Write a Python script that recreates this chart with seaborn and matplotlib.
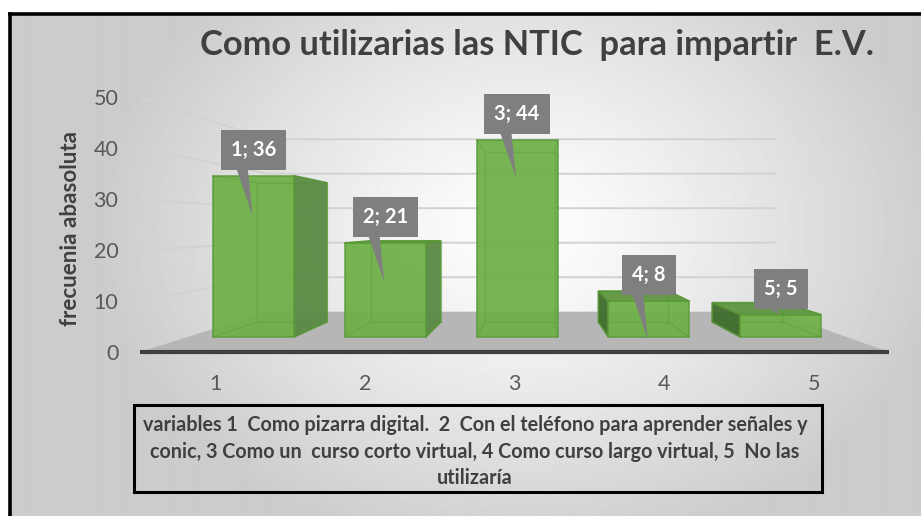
import numpy as np
import pandas as pd
import matplotlib
matplotlib.use("Agg")
import matplotlib.pyplot as plt
from matplotlib.patches import Polygon, Rectangle
import seaborn as sns

# ---- data -------------------------------------------------------------
categories = ["1", "2", "3", "4", "5"]
values = [36, 21, 44, 8, 5]
y_ticks = [0, 10, 20, 30, 40, 50]
title = "Como utilizarias las NTIC  para impartir  E.V."
y_label = "frecuenia abasoluta"
note_lines = [
    "variables 1  Como pizarra digital.  2  Con el teléfono para aprender señales y",
    "conic, 3 Como un  curso corto virtual, 4 Como curso largo virtual, 5  No las",
    "utilizaría",
]

# ---- styling ----------------------------------------------------------
W, H = 921, 516
FRONT = "#6cb045"
EDGE = "#5a9a38"
SIDE_R = "#5a8a44"
SIDE_L = "#3f6c2d"
TOP = "#5f9641"
FLOOR = "#b6b6b6"
GRID = "#d2d2d2"
TEXT_DARK = "#404040"
TICK = "#595959"
CALLOUT = "#7f7f7f"
callout_tail_px = [47, 46, 45, 45, 7]

# perspective set-up (pixel space of the front plane)
PX_PER_CAT = 131.8
PX_PER_UNIT = 4.48
ORIGIN_PX = (253.5, 337.0)
VANISH_PX = (535.0, 227.0)
K_BAR_BACK = 0.863
K_WALL = 0.77
K_FLOOR_FRONT = 1.136


def dx(px):
    return (px - ORIGIN_PX[0]) / PX_PER_CAT


def dy(py):
    return (ORIGIN_PX[1] - py) / PX_PER_UNIT


VX, VY = dx(VANISH_PX[0]), dy(VANISH_PX[1])


def proj(x, y, k):
    return (VX + k * (x - VX), VY + k * (y - VY))


sns.set_theme(style="white")
plt.rcParams["font.family"] = ["Lato", "DejaVu Sans"]

fig = plt.figure(figsize=(W / 100, H / 100), dpi=100)

# background: radial grey gradient inside a black frame
bg = fig.add_axes([0, 0, 1, 1], zorder=0)
bg.set_xlim(0, W)
bg.set_ylim(H, 0)
bg.axis("off")
yy, xx = np.mgrid[13:H, 10:W]
d = np.sqrt(((xx - 520) / 420.0) ** 2 + ((yy - 230) / 330.0) ** 2)
g = 1 - 0.2 * np.clip(d, 0, 1) ** 1.2
bg.imshow(g, cmap="gray", vmin=0, vmax=1, extent=(10, W, H, 13),
          aspect="auto", interpolation="bilinear")
bg.plot([10, 10], [H + 5, 14], color="black", lw=2.6, solid_capstyle="projecting")
bg.plot([10, W + 5], [14, 14], color="black", lw=2.6, solid_capstyle="projecting")

# main chart axes
ax = fig.add_axes([0, 0, 1, 1], zorder=1)
ax.patch.set_alpha(0)

df = pd.DataFrame({"opcion": categories, "frecuencia": values})
sns.barplot(data=df, x="opcion", y="frecuencia", width=0.615, color=FRONT,
            saturation=1, ax=ax, edgecolor=EDGE, linewidth=1.1, alpha=0.93,
            zorder=5)
bars = list(ax.patches)

ax.set_xlim(dx(0), dx(W))
ax.set_ylim(dy(H), dy(0))
ax.axis("off")

x_lo, x_hi = -0.5, len(categories) - 0.5

# floor
floor = [proj(x_lo, 0, K_FLOOR_FRONT), proj(x_hi, 0, K_FLOOR_FRONT),
         proj(x_hi, 0, K_WALL), proj(x_lo, 0, K_WALL)]
ax.add_patch(Polygon(floor, closed=True, facecolor=FLOOR, edgecolor="none", zorder=2))
fl = proj(x_lo, 0, K_FLOOR_FRONT)
fr = proj(x_hi, 0, K_FLOOR_FRONT)
ax.plot([fl[0], fr[0]], [fl[1], fr[1]], color="#3f3f3f", lw=3, zorder=3,
        solid_capstyle="butt")

# gridlines on side wall and back wall
for v in y_ticks[1:]:
    p0 = proj(x_lo, v, K_FLOOR_FRONT)
    p1 = proj(x_lo, v, K_WALL)
    p2 = proj(x_hi, v, K_WALL)
    ax.plot([p0[0], p1[0], p2[0]], [p0[1], p1[1], p2[1]], color=GRID, lw=1.4,
            zorder=1)

# y tick labels on the side wall
for v in y_ticks:
    p = proj(x_lo, v, K_FLOOR_FRONT)
    ax.annotate(str(v), xy=p, xytext=(-22, -2), textcoords="offset pixels",
                ha="right", va="center", fontsize=15.5, color=TICK, zorder=4)

# x tick labels in front of the floor
for i, c in enumerate(categories):
    p = proj(i, 0, K_FLOOR_FRONT)
    ax.annotate(c, xy=p, xytext=(0, -32), textcoords="offset pixels",
                ha="center", va="center", fontsize=15.5, color=TICK, zorder=4)

# 3D bar faces
for p in bars:
    a = p.get_x()
    b = a + p.get_width()
    v = p.get_height()
    p.set_zorder(5)
    if b < VX:
        pts = [proj(b, 0, 1), proj(b, 0, K_BAR_BACK), proj(b, v, K_BAR_BACK), proj(b, v, 1)]
        ax.add_patch(Polygon(pts, closed=True, facecolor=SIDE_R, edgecolor=EDGE,
                             lw=1.1, alpha=0.95, zorder=4))
    if a > VX:
        pts = [proj(a, 0, 1), proj(a, 0, K_BAR_BACK), proj(a, v, K_BAR_BACK), proj(a, v, 1)]
        ax.add_patch(Polygon(pts, closed=True, facecolor=SIDE_L, edgecolor=EDGE,
                             lw=1.1, alpha=0.95, zorder=4))
    if v < VY:
        pts = [proj(a, v, 1), proj(b, v, 1), proj(b, v, K_BAR_BACK), proj(a, v, K_BAR_BACK)]
        ax.add_patch(Polygon(pts, closed=True, facecolor=TOP, edgecolor=EDGE,
                             lw=1.1, alpha=0.95, zorder=4))
    # hidden edges seen through the translucent faces
    back = [proj(a, 0, K_BAR_BACK), proj(b, 0, K_BAR_BACK),
            proj(b, v, K_BAR_BACK), proj(a, v, K_BAR_BACK)]
    front = [(a, 0), (b, 0), (b, v), (a, v)]
    bxs = [q[0] for q in back] + [back[0][0]]
    bys = [q[1] for q in back] + [back[0][1]]
    ax.plot(bxs, bys, color="#4f8a30", lw=1.0, alpha=0.25, zorder=6)
    for f, q in zip(front, back):
        ax.plot([f[0], q[0]], [f[1], q[1]], color="#4f8a30", lw=1.0,
                alpha=0.25, zorder=6)

# value callouts
for p, c, tail in zip(bars, categories, callout_tail_px):
    cx = p.get_x() + p.get_width() / 2
    v = p.get_height()
    box_cy = v + 26 / PX_PER_UNIT
    base_y = v + 10 / PX_PER_UNIT
    tip = (cx - 1 / PX_PER_CAT, v + (7 - tail) / PX_PER_UNIT)
    tri = [(cx - 18 / PX_PER_CAT, base_y), (cx - 6 / PX_PER_CAT, base_y), tip]
    ax.add_patch(Polygon(tri, closed=True, facecolor=CALLOUT, edgecolor="none",
                         zorder=10))
    ax.text(cx, box_cy, f"{c}; {v:g}", ha="center", va="center", color="white",
            fontweight="bold", fontsize=14.5, zorder=11,
            bbox=dict(boxstyle="square,pad=0.5", fc=CALLOUT, ec="none"))


def fit_width(t, target_px):
    r = fig.canvas.get_renderer()
    w = t.get_window_extent(renderer=r).width
    t.set_fontsize(t.get_fontsize() * target_px / w)
    return t.get_fontsize()


# title
t_title = bg.text(537, 55, title, ha="center", va="baseline", fontsize=22,
                  fontweight="bold", color=TEXT_DARK)
fit_width(t_title, 672)

# y axis title
t_y = bg.text(70, 228, y_label, ha="center", va="center", rotation=90,
              fontsize=13, fontweight="bold", color=TEXT_DARK)
r = fig.canvas.get_renderer()
h = t_y.get_window_extent(renderer=r).height
t_y.set_fontsize(t_y.get_fontsize() * 195 / h)

# note box under the chart
bg.add_patch(Rectangle((134, 405), 688, 87, facecolor="none", edgecolor="black",
                       lw=2.2, zorder=3))
note_ys = [425, 452, 478]
texts = [bg.text(475, y, s, ha="center", va="center", fontsize=12,
                 fontweight="bold", color=TEXT_DARK, zorder=4)
         for s, y in zip(note_lines, note_ys)]
fs = fit_width(texts[0], 660)
for t in texts[1:]:
    t.set_fontsize(fs)

fig.savefig("out.png", dpi=100)
